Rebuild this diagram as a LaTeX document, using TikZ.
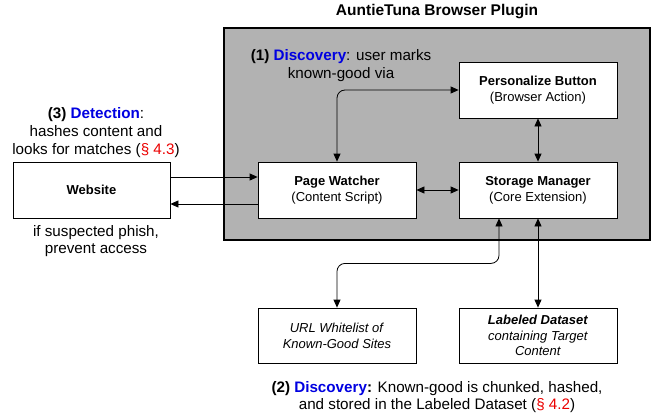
\documentclass[tikz,border=0pt]{standalone}
\usepackage{fontspec}
\setmainfont{Liberation Sans}
\usetikzlibrary{arrows.meta}
\definecolor{plugingray}{RGB}{178,178,178}
\definecolor{discblue}{RGB}{0,0,225}
\definecolor{secred}{RGB}{235,0,0}
\tikzset{
  box/.style={draw, fill=white, line width=0.8pt, minimum width=158pt, minimum height=56pt, align=center, inner sep=0pt, font=\fontsize{13}{16}\selectfont},
  anno/.style={align=center, inner sep=0pt, font=\fontsize{15.2}{17.8}\selectfont},
  arr/.style={line width=0.8pt, -{Triangle[length=8pt,width=7pt]}},
  arrtwo/.style={line width=0.8pt, {Triangle[length=8pt,width=7pt]}-{Triangle[length=8pt,width=7pt]}}
}
\begin{document}
\begin{tikzpicture}[x=1pt,y=-1pt]
\useasboundingbox (0,0) rectangle (652,417);
\draw[line width=2pt, fill=plugingray] (224,28) rectangle (650,240);
\node[font=\fontsize{15.5}{18}\selectfont\bfseries, inner sep=0pt] (title) at (437,12) {AuntieTuna Browser Plugin};
\node[box] (pb) at (538,90) {\textbf{Personalize Button}\\(Browser Action)};
\node[box] (pw) at (337,190) {\textbf{Page Watcher}\\(Content Script)};
\node[box] (sm) at (538,190) {\textbf{Storage Manager}\\(Core Extension)};
\node[box, minimum width=157pt] (web) at (91.5,190) {\textbf{Website}};
\node[box, minimum height=55pt] (url) at (337,335.5) {\textit{URL Whitelist of}\\\textit{Known-Good Sites}};
\node[box, minimum height=55pt, font=\fontsize{13}{15.5}\selectfont] (ld) at (538,335.5) {\textbf{\textit{Labeled Dataset}}\\\textit{containing Target}\\\textit{Content}};
\draw[arr] ([yshift=13pt]web.east) -- ([yshift=13pt]pw.west);
\draw[arr] ([yshift=-14pt]pw.west) -- ([yshift=-14pt]web.east);
\draw[arrtwo] (pw.east) -- (sm.west);
\draw[arrtwo] (pb.south) -- (sm.north);
\draw[arrtwo, rounded corners=8pt] (pw.north) |- (pb.west);
\draw[arrtwo, rounded corners=8pt] ([xshift=-39pt]sm.south) -- ++(0,45) -| (url.north);
\draw[arrtwo] (sm.south) -- (ld.north);
\node[anno] (n1) at (341,65.5) {\textbf{(1) \textcolor{discblue}{Discovery}}: user marks\\known-good via};
\node[anno] (n3) at (96,132.5) {\textbf{(3) \textcolor{discblue}{Detection}}:\\hashes content and\\looks for matches (\textcolor{secred}{§ 4.3})};
\node[anno] (n4) at (96,241) {if suspected phish,\\prevent access};
\node[anno] (n2) at (437,397) {\textbf{(2) \textcolor{discblue}{Discovery}:} Known-good is chunked, hashed,\\and stored in the Labeled Dataset (\textcolor{secred}{§ 4.2})};
\end{tikzpicture}
\end{document}
